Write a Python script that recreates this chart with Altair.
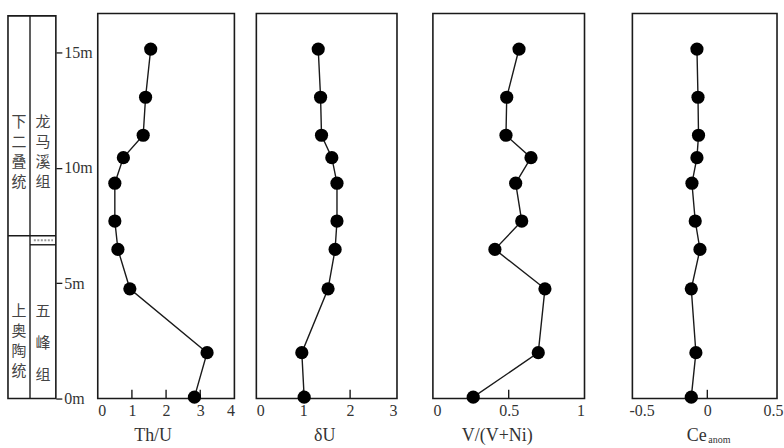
import altair as alt
import pandas as pd

# ---- data ----
depth = [15.16, 13.07, 11.42, 10.45, 9.34, 7.70, 6.47, 4.76, 1.99, 0.06]
th_u = [1.55, 1.40, 1.33, 0.75, 0.50, 0.50, 0.59, 0.94, 3.20, 2.83]
delta_u = [1.32, 1.37, 1.39, 1.61, 1.72, 1.72, 1.68, 1.53, 0.97, 1.02]
v_vni = [0.568, 0.487, 0.482, 0.647, 0.546, 0.586, 0.409, 0.739, 0.695, 0.266]
ce_anom = [-0.079, -0.071, -0.067, -0.079, -0.117, -0.092, -0.056, -0.122, -0.087, -0.122]

depth_ticks = [0, 5, 10, 15]
series_names = ["下\n二\n叠\n统", "上\n奥\n陶\n统"]
formation_names = ["龙\n马\n溪\n组", "五\n峰\n组"]
label_depths = [12.0, 3.8]
boundary_series = 7.06      # base of 下二叠统 / 龙马溪组
boundary_wufeng = 6.67      # top of 五峰组
col_top = 16.6
inner_tick_len = 0.38

Y_MAX = 16.7
H = 386
SERIF = "Liberation Serif"
CJK = "Noto Sans CJK SC"
TXT = "#333333"
LINE = "#1a1a1a"

yscale = alt.Scale(domain=[0, Y_MAX], nice=False, zero=False)


def panel(values, title, domain, ticks, inner, width, rng, title_x, label_expr=None,
          title_align="center"):
    df = pd.DataFrame({"depth": depth, "v": values})
    xs = alt.Scale(domain=domain, range=rng, nice=False, zero=False)
    axis_kw = dict(values=ticks, ticks=False, domain=False, grid=False,
                   labelFont=SERIF, labelFontSize=16, labelColor=TXT, labelPadding=4,
                   title=title, titleFont=SERIF, titleFontSize=18, titleFontWeight="normal",
                   titleColor=TXT, titleX=title_x, titleY=28, titleBaseline="top",
                   titleAlign=title_align, format="~g")
    if label_expr:
        axis_kw["labelExpr"] = label_expr
    ax = alt.Axis(**axis_kw)
    base = alt.Chart(df)
    line = base.mark_line(color=LINE, strokeWidth=1.4).encode(
        x=alt.X("v:Q", scale=xs, axis=ax),
        y=alt.Y("depth:Q", scale=yscale, axis=None),
        order=alt.Order("depth:Q"),
    )
    pts = base.mark_circle(size=175, color="black", opacity=1).encode(
        x=alt.X("v:Q", scale=xs, axis=ax),
        y=alt.Y("depth:Q", scale=yscale, axis=None),
    )
    frame = alt.Chart(pd.DataFrame({"a": [0]})).mark_rect(
        fillOpacity=0, stroke=LINE, strokeWidth=1.6).encode(
        x=alt.X(datum=domain[0], scale=xs, axis=ax),
        x2=alt.X2(datum=domain[1]),
        y=alt.Y(datum=0, scale=yscale, axis=None),
        y2=alt.Y2(datum=Y_MAX),
    )
    tk_df = pd.DataFrame({"t": inner, "y0": [0.0] * len(inner),
                          "y1": [inner_tick_len] * len(inner)})
    tk = alt.Chart(tk_df).mark_rule(color=LINE, strokeWidth=1.4).encode(
        x=alt.X("t:Q", scale=xs, axis=ax),
        y=alt.Y("y0:Q", scale=yscale, axis=None),
        y2="y1:Q",
    )
    return alt.layer(frame, tk, line, pts).properties(width=width, height=H)


# ---- stratigraphic column ----
cx = alt.Scale(domain=[0, 1], range=[7, 55], nice=False, zero=False)
yaxis = alt.Axis(orient="right", values=depth_ticks, labelExpr="datum.value + 'm'",
                 tickSize=6, tickColor=LINE, tickWidth=1.3, domain=False, grid=False,
                 labelPadding=2, labelFont=SERIF, labelFontSize=16, labelColor=TXT,
                 title=None)
one = pd.DataFrame({"a": [0]})

col_frame = alt.Chart(one).mark_rect(fillOpacity=0, stroke=LINE, strokeWidth=1.6).encode(
    x=alt.X(datum=0, scale=cx, axis=None), x2=alt.X2(datum=1),
    y=alt.Y(datum=0, scale=yscale, axis=yaxis), y2=alt.Y2(datum=col_top))
col_div = alt.Chart(one).mark_rule(color=LINE, strokeWidth=1.4).encode(
    x=alt.X(datum=0.46, scale=cx, axis=None),
    y=alt.Y(datum=0, scale=yscale, axis=yaxis), y2=alt.Y2(datum=col_top))
col_b1 = alt.Chart(one).mark_rule(color=LINE, strokeWidth=1.4).encode(
    x=alt.X(datum=0, scale=cx, axis=None), x2=alt.X2(datum=1),
    y=alt.Y(datum=boundary_series, scale=yscale, axis=yaxis))
col_b2 = alt.Chart(one).mark_rule(color=LINE, strokeWidth=1.4).encode(
    x=alt.X(datum=0.46, scale=cx, axis=None), x2=alt.X2(datum=1),
    y=alt.Y(datum=boundary_wufeng, scale=yscale, axis=yaxis))
col_hatch = alt.Chart(one).mark_rule(color="#999999", strokeWidth=2, strokeDash=[2, 1.5]).encode(
    x=alt.X(datum=0.54, scale=cx, axis=None), x2=alt.X2(datum=0.94),
    y=alt.Y(datum=(boundary_series + boundary_wufeng) / 2, scale=yscale, axis=yaxis))

ser_df = pd.DataFrame({"name": series_names, "d": label_depths})
ser_txt = alt.Chart(ser_df).mark_text(lineBreak="\n", lineHeight=20, font=CJK, fontSize=15,
                                      color="#444444", baseline="middle").encode(
    x=alt.X(datum=0.23, scale=cx, axis=None),
    y=alt.Y("d:Q", scale=yscale, axis=yaxis),
    text="name:N")
f1_txt = alt.Chart(pd.DataFrame({"name": [formation_names[0]], "d": [label_depths[0]]})).mark_text(
    lineBreak="\n", lineHeight=20, font=CJK, fontSize=15, color="#444444", baseline="middle").encode(
    x=alt.X(datum=0.73, scale=cx, axis=None),
    y=alt.Y("d:Q", scale=yscale, axis=yaxis),
    text="name:N")
f2_txt = alt.Chart(pd.DataFrame({"name": [formation_names[1]], "d": [label_depths[1]]})).mark_text(
    lineBreak="\n", lineHeight=32, font=CJK, fontSize=15, color="#444444", baseline="middle").encode(
    x=alt.X(datum=0.73, scale=cx, axis=None),
    y=alt.Y("d:Q", scale=yscale, axis=yaxis),
    text="name:N")

column = alt.layer(col_frame, col_div, col_b1, col_b2, col_hatch, ser_txt, f1_txt, f2_txt).properties(
    width=55, height=H)

# ---- data panels ----
p1 = panel(th_u, "Th/U", [0, 4], [0, 1, 2, 3, 4], [1, 2, 3], 190, [42, 179], 97)
p2 = panel(delta_u, "δU", [0, 3], [0, 1, 2, 3], [1, 2], 170, [11, 152], 79)
p3 = panel(v_vni, "V/(V+Ni)", [0, 1], [0, 0.5, 1], [0.5], 194, [18, 170], 82)
ce_expr = "datum.value == 0 ? '0' : (datum.value < 0 ? '-' : '') + format(abs(datum.value), '.1f')"
p4 = panel(ce_anom, "Ce", [-0.57, 0.53], [-0.5, 0, 0.5], [0], 175, [24, 169], 98,
           label_expr=ce_expr, title_align="right")
ce_sub = alt.Chart(one).mark_text(text="anom", font=SERIF, fontSize=10, color=TXT,
                                  align="left", baseline="middle", dx=1).encode(
    x=alt.X(datum=0.0, scale=alt.Scale(domain=[-0.57, 0.53], range=[24, 169], nice=False, zero=False)),
    y=alt.Y(datum=-1.8, scale=yscale, axis=None))
p4 = alt.layer(*p4.layer, ce_sub).properties(width=175, height=H)

chart = alt.hconcat(column, p1, p2, p3, p4, spacing=0, bounds="flush").resolve_scale(
    x="independent", y="independent").properties(
    padding={"left": 0, "top": 11, "right": 0, "bottom": 0}).configure_view(stroke="transparent")

chart.save("out.html", embed_options={"renderer": "svg", "actions": False})
